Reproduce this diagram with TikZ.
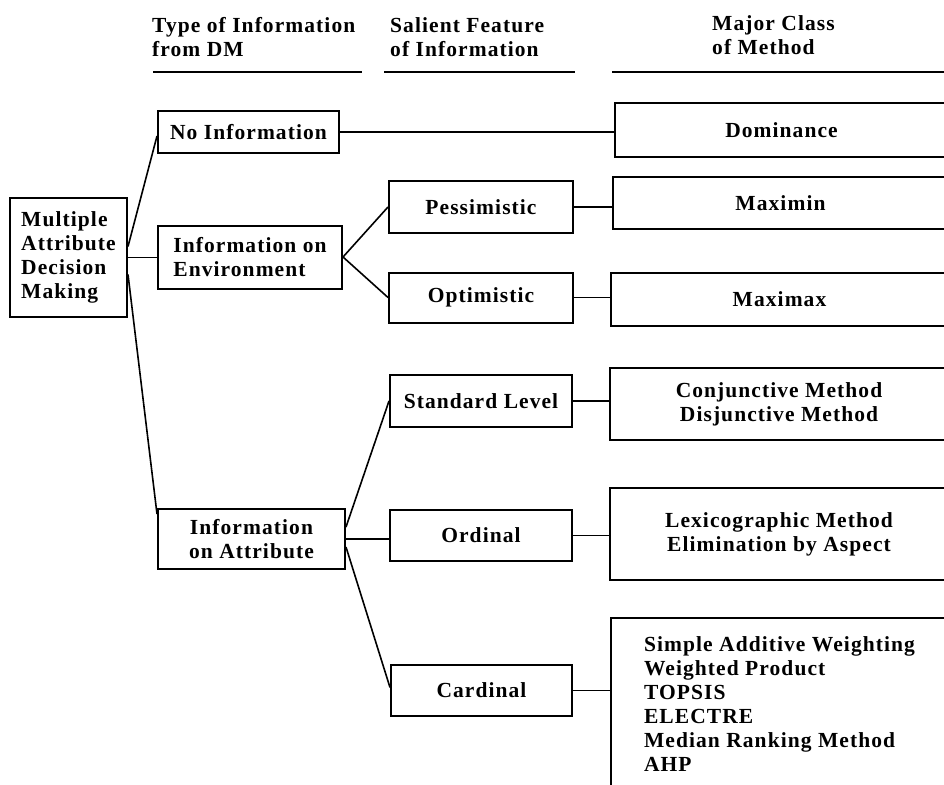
\documentclass[tikz,border=0pt]{standalone}
\usepackage{fontspec}
\setmainfont[LetterSpace=5]{Liberation Serif}
\usetikzlibrary{calc}
\begin{document}
\begin{tikzpicture}[x=1pt,y=-1pt,
  txt/.style={font=\bfseries\fontsize{21.5}{24}\selectfont, inner sep=0pt},
  box/.style={txt, draw, line width=2pt, align=center},
  link/.style={line width=1.6pt},
  rule/.style={line width=2.6pt}]
\useasboundingbox (0,0) rectangle (944,784);
\clip (0,0) rectangle (944,784);
% headers
\node[txt, anchor=west, align=left] (h1) at (152,37) {Type of Information\\from DM};
\node[txt, anchor=west, align=left] (h2) at (390,37) {Salient Feature\\of Information};
\node[txt, anchor=west, align=left] (h3) at (712,35) {Major Class\\of Method};
\draw[rule] (153,72) -- (362,72);
\draw[rule] (384,72) -- (575,72);
\draw[rule] (612,72) -- (960,72);
% level 0
\node[box, align=left, minimum width=117pt, minimum height=119pt] (madm) at (68.5,257.5) {Multiple\\Attribute\\Decision\\Making};
% level 1
\node[box, minimum width=181pt, minimum height=42pt] (noinfo) at (248.5,132) {No Information};
\node[box, align=left, minimum width=184pt, minimum height=63pt] (env) at (250,257) {Information on\\Environment};
\node[box, minimum width=187pt, minimum height=60pt] (attr) at (251.5,539) {Information\\on Attribute};
% level 2
\node[box, minimum width=184pt, minimum height=52pt] (pess) at (481,207) {Pessimistic};
\node[box, minimum width=184pt, minimum height=50pt] (opt) at (481,297.5) {Optimistic};
\node[box, minimum width=182pt, minimum height=52pt] (std) at (481,401) {Standard Level};
\node[box, minimum width=182pt, minimum height=51pt] (ord) at (481,535.5) {Ordinal};
\node[box, minimum width=181pt, minimum height=51pt] (card) at (481.5,690.5) {Cardinal};
% level 3
\node[box, minimum width=333pt, minimum height=54pt] (dom) at (781.5,130) {Dominance};
\node[box, minimum width=335pt, minimum height=52pt] (maximin) at (780.5,203) {Maximin};
\node[box, minimum width=337pt, minimum height=53pt] (maximax) at (779.5,299.5) {Maximax};
\node[box, minimum width=338pt, minimum height=72pt] (conj) at (779,404) {Conjunctive Method\\Disjunctive Method};
\node[box, minimum width=338pt, minimum height=92pt] (lexi) at (779,534) {Lexicographic Method\\Elimination by Aspect};
\node[box, align=left, minimum width=337pt, minimum height=172pt] (cardm) at (779.5,704) {Simple Additive Weighting\\Weighted Product\\TOPSIS\\ELECTRE\\Median Ranking Method\\AHP};
% connectors
\draw[link] ($(madm.east)+(0,-11)$) -- ($(noinfo.west)+(0,4)$);
\draw[link] (madm.east) -- (madm.east -| env.west);
\draw[link] ($(madm.east)+(0,17)$) -- ($(attr.north west)+(0,6)$);
\draw[link] (env.east) -- (pess.west);
\draw[link] (env.east) -- (opt.west);
\draw[link] (noinfo.east) -- (noinfo.east -| dom.west);
\draw[link] (pess.east) -- (pess.east -| maximin.west);
\draw[link] (opt.east) -- (opt.east -| maximax.west);
\draw[link] ($(attr.east)+(0,-12)$) -- (std.west);
\draw[link] (attr.east) -- (attr.east -| ord.west);
\draw[link] ($(attr.east)+(0,8)$) -- ($(card.west)+(0,-3)$);
\draw[link] (std.east) -- (std.east -| conj.west);
\draw[link] (ord.east) -- (ord.east -| lexi.west);
\draw[link] (card.east) -- (card.east -| cardm.west);
\end{tikzpicture}
\end{document}
